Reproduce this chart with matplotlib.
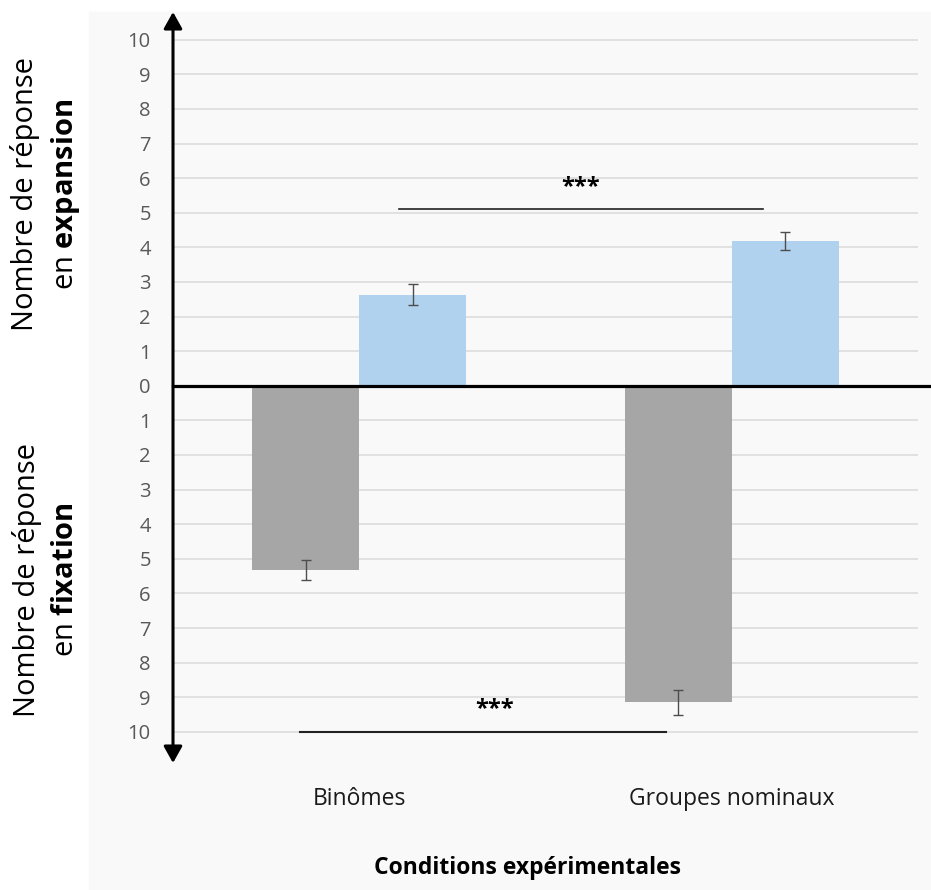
import numpy as np
import matplotlib
matplotlib.use('Agg')
import matplotlib.pyplot as plt
from matplotlib.patches import Rectangle

plt.rcParams['font.family'] = ['Open Sans', 'DejaVu Sans']
plt.rcParams['mathtext.fontset'] = 'custom'
plt.rcParams['mathtext.rm'] = 'Open Sans'
plt.rcParams['mathtext.bf'] = 'Open Sans:bold'

# donnees
conditions = ['Binômes', 'Groupes nominaux']
expansion = [2.63, 4.18]
expansion_err = [0.30, 0.27]
fixation = [5.33, 9.15]
fixation_err = [0.29, 0.36]
ticks = list(range(-10, 11))

bleu = '#b0d2ee'
gris = '#a6a6a6'
fond = '#f9f9f9'

fig = plt.figure(figsize=(9.31, 8.90), dpi=100)
fig.patches.append(Rectangle((89/931, 0), 1 - 89/931, 1 - 12/890,
                             transform=fig.transFigure, color=fond, zorder=-5))

ax = fig.add_axes([173/931, 1 - 763/890, (918-173)/931, (763-12)/890])
ax.patch.set_visible(False)

x = np.arange(len(conditions)) + 0.5
w = 0.287
ax.bar(x - w/2, -np.array(fixation), w, color=gris, zorder=2)
ax.bar(x + w/2, expansion, w, color=bleu, zorder=2)
ax.errorbar(x - w/2, -np.array(fixation), yerr=fixation_err, fmt='none',
            ecolor='#4d4d4d', elinewidth=1, capsize=3.5, capthick=1, zorder=3)
ax.errorbar(x + w/2, expansion, yerr=expansion_err, fmt='none',
            ecolor='#4d4d4d', elinewidth=1, capsize=3.5, capthick=1, zorder=3)

ax.set_xlim(0, 2)
ax.set_ylim(-10.9, 10.8)
ax.set_yticks(ticks)
ax.set_yticklabels([str(abs(t)) for t in ticks])
ax.yaxis.grid(True, color='#dadada', lw=1.1, zorder=0)
ax.set_axisbelow(True)
ax.tick_params(axis='y', length=0, pad=16, labelsize=14.5, labelcolor='#595959')
ax.set_xticks(x)
ax.set_xticklabels(conditions)
ax.tick_params(axis='x', length=0, pad=17, labelsize=16.5, labelcolor='#1a1a1a')
for s in ax.spines.values():
    s.set_visible(False)

# axes en fleches
ax.axhline(0, xmin=0, xmax=(931-173)/(918-173), color='black', lw=2.3,
           clip_on=False, zorder=4)
ax.annotate('', xy=(0, 10.8), xytext=(0, -10.9),
            arrowprops=dict(arrowstyle='<|-|>,head_length=0.5,head_width=0.28',
                            mutation_scale=20, lw=2.2, color='black',
                            shrinkA=0, shrinkB=0),
            annotation_clip=False, zorder=5)

# significativite
ax.plot([0.607, 1.584], [5.1, 5.1], color='#222222', lw=1.2, zorder=3)
ax.text(1.093, 5.75, '***', ha='center', va='center', fontsize=17, fontweight='bold')
ax.plot([0.341, 1.323], [-10, -10], color='#222222', lw=1.5, zorder=3)
ax.text(0.864, -9.35, '***', ha='center', va='center', fontsize=17, fontweight='bold')

fig.text(46/931, 1 - 194/890, 'Nombre de réponse\nen $\\mathbf{expansion}$',
         rotation=90, ha='center', va='center', fontsize=21, linespacing=1.4)
fig.text(46/931, 1 - 580/890, 'Nombre de réponse\nen $\\mathbf{fixation}$',
         rotation=90, ha='center', va='center', fontsize=21, linespacing=1.4)
fig.text(527/931, 1 - 868/890, 'Conditions expérimentales', ha='center',
         va='center', fontsize=16.5, fontweight='bold')

fig.savefig('out.png', dpi=100)
